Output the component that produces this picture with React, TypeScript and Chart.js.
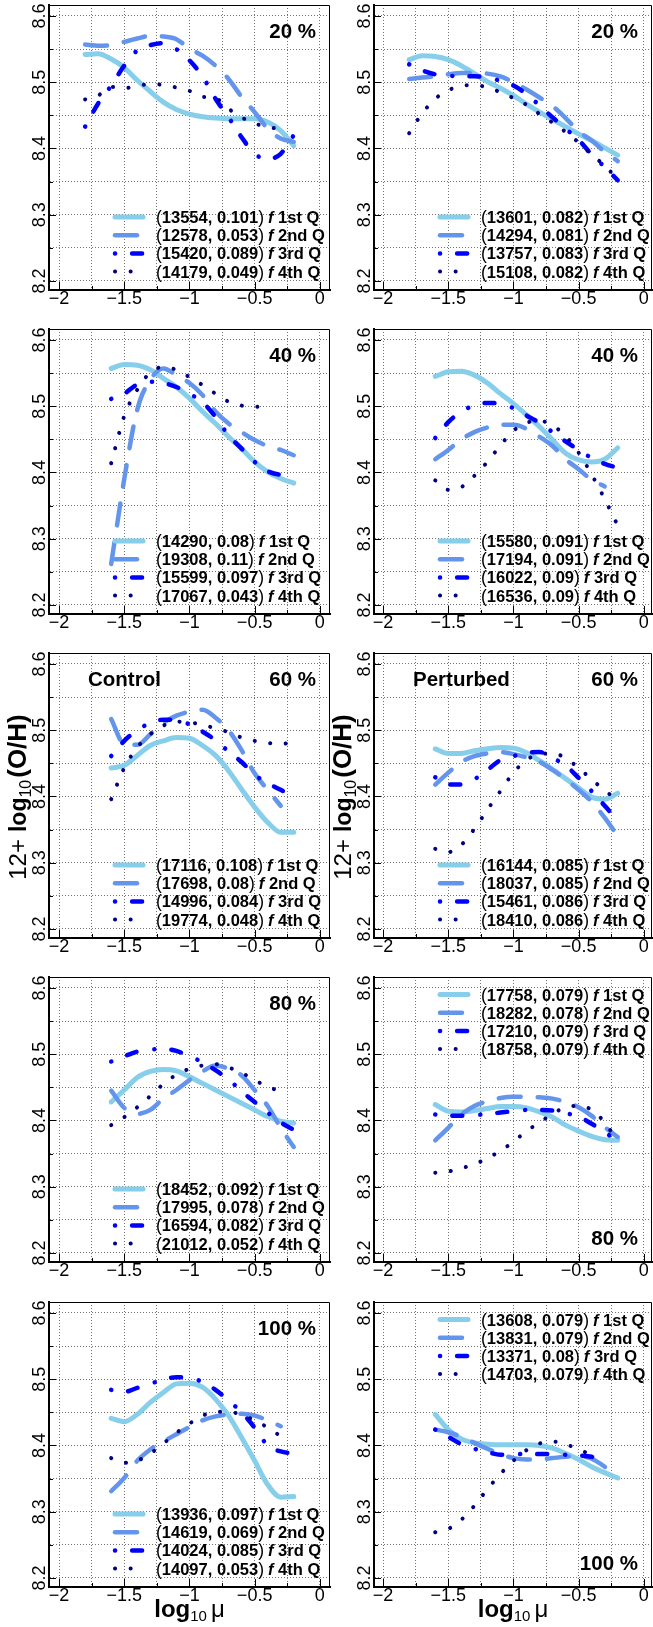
import React, { useEffect, useRef } from "react";
import { Chart, registerables } from "chart.js";

Chart.register(...registerables);

// ---------- x positions (log10 mu) ----------
const X_WIDE = [-1.8, -1.7, -1.6, -1.5, -1.4, -1.3, -1.2, -1.1, -1.0, -0.9, -0.8, -0.7, -0.6, -0.5, -0.4, -0.3, -0.2];
const X_NARROW = [-1.6, -1.5, -1.4, -1.3, -1.2, -1.1, -1.0, -0.9, -0.8, -0.7, -0.6, -0.5, -0.4, -0.3, -0.2];

// ---------- Control 20 % ----------
const c20q1 = [8.542, 8.543, 8.535, 8.522, 8.503, 8.486, 8.47, 8.459, 8.452, 8.448, 8.446, 8.445, 8.445, 8.445, 8.44, 8.427, 8.404];
const c20q2 = [8.557, 8.555, 8.556, 8.561, 8.566, 8.57, 8.569, 8.565, 8.551, 8.54, 8.525, 8.505, 8.478, 8.455, 8.43, 8.415, 8.41];
const c20q3 = [8.433, 8.468, 8.495, 8.525, 8.548, 8.556, 8.559, 8.55, 8.533, 8.509, 8.475, 8.447, 8.417, 8.392, 8.384, 8.392, 8.42];
const c20q4 = [8.474, 8.48, 8.493, 8.491, 8.495, 8.497, 8.496, 8.492, 8.487, 8.478, 8.476, 8.46, 8.447, 8.438, 8.432, 8.43, null];
const c20N = [13554, 12578, 15420, 14179];
const c20F = [0.101, 0.053, 0.089, 0.049];

// ---------- Perturbed 20 % ----------
const p20q1 = [8.534, 8.54, 8.539, 8.534, 8.525, 8.513, 8.501, 8.491, 8.48, 8.467, 8.455, 8.444, 8.433, 8.422, 8.412, 8.401, 8.39];
const p20q2 = [8.505, 8.507, 8.509, 8.512, 8.514, 8.514, 8.513, 8.509, 8.5, 8.489, 8.477, 8.464, 8.446, 8.426, 8.412, 8.395, 8.381];
const p20q3 = [8.527, 8.518, 8.512, 8.51, 8.509, 8.509, 8.507, 8.502, 8.495, 8.482, 8.465, 8.447, 8.43, 8.413, 8.391, 8.372, 8.352];
const p20q4 = [8.423, 8.453, 8.475, 8.488, 8.494, 8.496, 8.492, 8.485, 8.476, 8.466, 8.452, 8.439, 8.425, 8.409, 8.391, 8.374, 8.354];
const p20N = [13601, 14294, 13757, 15108];
const p20F = [0.082, 0.081, 0.083, 0.082];

// ---------- Control 40 % ----------
const c40q1 = [8.557, 8.563, 8.562, 8.555, 8.542, 8.529, 8.512, 8.492, 8.474, 8.454, 8.436, 8.416, 8.401, 8.391, 8.384];
const c40q2 = [8.262, 8.39, 8.495, 8.54, 8.557, 8.547, 8.535, 8.517, 8.492, 8.474, 8.461, 8.449, 8.44, 8.434, 8.426];
const c40q3 = [8.511, 8.519, 8.533, 8.537, 8.535, 8.529, 8.519, 8.506, 8.484, 8.456, 8.436, 8.416, 8.402, 8.397, 8.409];
const c40q4 = [8.414, 8.485, 8.525, 8.551, 8.559, 8.555, 8.544, 8.532, 8.519, 8.507, 8.501, 8.499, 8.503, null, null];
const c40N = [14290, 19308, 15599, 17067];
const c40F = [0.08, 0.11, 0.097, 0.043];

// ---------- Perturbed 40 % ----------
const p40q1 = [8.545, 8.552, 8.553, 8.547, 8.535, 8.519, 8.504, 8.487, 8.469, 8.449, 8.429, 8.419, 8.416, 8.42, 8.437];
const p40q2 = [8.42, 8.434, 8.45, 8.461, 8.468, 8.472, 8.472, 8.466, 8.454, 8.44, 8.42, 8.405, 8.389, 8.379, null];
const p40q3 = [8.452, 8.476, 8.492, 8.501, 8.505, 8.504, 8.497, 8.486, 8.475, 8.461, 8.447, 8.434, 8.422, 8.413, 8.407];
const p40q4 = [8.388, 8.374, 8.378, 8.395, 8.416, 8.441, 8.463, 8.475, 8.478, 8.471, 8.455, 8.43, 8.397, 8.36, 8.32];
const p40N = [15580, 17194, 16022, 16536];
const p40F = [0.091, 0.091, 0.09, 0.09];

// ---------- Control 60 % ----------
const c60q1 = [8.443, 8.447, 8.462, 8.477, 8.484, 8.489, 8.488, 8.477, 8.462, 8.439, 8.411, 8.384, 8.361, 8.346, 8.346];
const c60q2 = [8.517, 8.479, 8.478, 8.494, 8.511, 8.522, 8.528, 8.531, 8.519, 8.5, 8.47, 8.435, 8.41, 8.386, null];
const c60q3 = [8.461, 8.484, 8.5, 8.511, 8.516, 8.515, 8.509, 8.498, 8.485, 8.468, 8.452, 8.433, 8.42, 8.41, 8.4];
const c60q4 = [8.396, 8.443, 8.474, 8.494, 8.507, 8.513, 8.512, 8.508, 8.503, 8.497, 8.489, 8.484, 8.481, 8.479, 8.483];
const c60N = [17116, 17698, 14996, 19774];
const c60F = [0.108, 0.08, 0.084, 0.048];

// ---------- Perturbed 60 % ----------
const p60q1 = [8.472, 8.465, 8.465, 8.469, 8.472, 8.474, 8.473, 8.466, 8.454, 8.441, 8.427, 8.413, 8.399, 8.396, 8.405];
const p60q2 = [8.418, 8.436, 8.452, 8.461, 8.465, 8.467, 8.464, 8.459, 8.452, 8.44, 8.426, 8.41, 8.392, 8.368, 8.34];
const p60q3 = [8.429, 8.418, 8.418, 8.426, 8.44, 8.455, 8.461, 8.466, 8.467, 8.458, 8.447, 8.428, 8.408, 8.386, 8.364];
const p60q4 = [8.321, 8.316, 8.327, 8.351, 8.38, 8.408, 8.436, 8.455, 8.464, 8.465, 8.458, 8.443, 8.426, 8.409, 8.395];
const p60N = [16144, 18037, 15461, 18410];
const p60F = [0.085, 0.085, 0.086, 0.086];

// ---------- Control 80 % ----------
const c80q1 = [8.428, 8.446, 8.465, 8.474, 8.477, 8.475, 8.466, 8.456, 8.446, 8.436, 8.426, 8.416, 8.406, 8.399, 8.396];
const c80q2 = [8.445, 8.419, 8.41, 8.416, 8.433, 8.446, 8.461, 8.474, 8.483, 8.478, 8.468, 8.446, 8.422, 8.389, 8.36];
const c80q3 = [8.489, 8.497, 8.504, 8.507, 8.508, 8.505, 8.497, 8.488, 8.476, 8.462, 8.444, 8.428, 8.412, 8.397, 8.386];
const c80q4 = [8.393, 8.405, 8.42, 8.437, 8.455, 8.469, 8.478, 8.483, 8.485, 8.48, 8.472, 8.461, 8.451, 8.444, null];
const c80N = [18452, 17995, 16594, 21012];
const c80F = [0.092, 0.078, 0.082, 0.052];

// ---------- Perturbed 80 % ----------
const p80q1 = [8.424, 8.414, 8.413, 8.415, 8.418, 8.421, 8.421, 8.419, 8.413, 8.405, 8.393, 8.384, 8.376, 8.371, 8.37];
const p80q2 = [8.37, 8.389, 8.409, 8.422, 8.429, 8.434, 8.436, 8.436, 8.435, 8.433, 8.428, 8.42, 8.407, 8.39, 8.375];
const p80q3 = [8.409, 8.407, 8.407, 8.408, 8.41, 8.412, 8.414, 8.416, 8.416, 8.415, 8.411, 8.406, 8.395, 8.383, 8.367];
const p80q4 = [8.321, 8.323, 8.328, 8.334, 8.343, 8.354, 8.368, 8.384, 8.397, 8.41, 8.42, 8.422, 8.416, 8.397, 8.368];
const p80N = [17758, 18282, 17210, 18758];
const p80F = [0.079, 0.078, 0.079, 0.079];

// ---------- Control 100 % ----------
const c100q1 = [8.441, 8.436, 8.447, 8.465, 8.48, 8.493, 8.494, 8.488, 8.47, 8.445, 8.412, 8.377, 8.341, 8.322, 8.323];
const c100q2 = [8.331, 8.351, 8.377, 8.394, 8.406, 8.417, 8.428, 8.438, 8.444, 8.447, 8.448, 8.445, 8.438, 8.429, null];
const c100q3 = [8.484, 8.481, 8.487, 8.493, 8.5, 8.503, 8.502, 8.496, 8.484, 8.468, 8.45, 8.427, 8.4, 8.391, 8.388];
const c100q4 = [8.381, 8.374, 8.377, 8.388, 8.403, 8.419, 8.433, 8.445, 8.451, 8.451, 8.446, 8.438, 8.427, 8.414, null];
const c100N = [13936, 14619, 14024, 14097];
const c100F = [0.097, 0.069, 0.085, 0.053];

// ---------- Perturbed 100 % ----------
const p100q1 = [8.447, 8.424, 8.41, 8.404, 8.402, 8.401, 8.401, 8.401, 8.4, 8.396, 8.388, 8.379, 8.368, 8.359, 8.351];
const p100q2 = [8.424, 8.42, 8.413, 8.404, 8.395, 8.387, 8.381, 8.379, 8.379, 8.381, 8.383, 8.384, 8.38, 8.368, 8.351];
const p100q3 = [8.424, 8.413, 8.402, 8.395, 8.39, 8.386, 8.386, 8.388, 8.387, 8.387, 8.386, 8.385, 8.383, 8.377, null];
const p100q4 = [8.269, 8.274, 8.288, 8.309, 8.334, 8.357, 8.377, 8.393, 8.403, 8.406, 8.402, 8.394, 8.386, null, null];
const p100N = [13608, 13831, 13371, 14703];
const p100F = [0.079, 0.079, 0.08, 0.079];

// ---------- labels & axes ----------
const ORDINALS = ["1st", "2nd", "3rd", "4th"];
const PERCENTS = ["20 %", "40 %", "60 %", "80 %", "100 %"];
const GROUPS = ["Control", "Perturbed"];
const Y_MIN = 8.1864;
const Y_MAX = 8.6166;
const Y_STEP = 0.05;
const X_STEP = 0.25;
const X_LIMITS_LEFT = [-2.077, 0.078];
const X_LIMITS_RIGHT = [-2.07, 0.063];

const FONT = '"Liberation Sans", Arial, Helvetica, sans-serif';

const STYLES = [
  { color: "#87CEEB", width: 5, dash: [] as number[] },
  { color: "#6495ED", width: 4.5, dash: [22, 17] },
  { color: "#0000FF", width: 4.5, dash: [0.1, 17, 10, 18] },
  { color: "#000080", width: 4, dash: [0.1, 15.5] },
];

const PANELS = [
  { row: 0, col: 0, xs: X_WIDE, q: [c20q1, c20q2, c20q3, c20q4], n: c20N, f: c20F, legendTop: false, pctBottom: false },
  { row: 0, col: 1, xs: X_WIDE, q: [p20q1, p20q2, p20q3, p20q4], n: p20N, f: p20F, legendTop: false, pctBottom: false },
  { row: 1, col: 0, xs: X_NARROW, q: [c40q1, c40q2, c40q3, c40q4], n: c40N, f: c40F, legendTop: false, pctBottom: false },
  { row: 1, col: 1, xs: X_NARROW, q: [p40q1, p40q2, p40q3, p40q4], n: p40N, f: p40F, legendTop: false, pctBottom: false },
  { row: 2, col: 0, xs: X_NARROW, q: [c60q1, c60q2, c60q3, c60q4], n: c60N, f: c60F, legendTop: false, pctBottom: false },
  { row: 2, col: 1, xs: X_NARROW, q: [p60q1, p60q2, p60q3, p60q4], n: p60N, f: p60F, legendTop: false, pctBottom: false },
  { row: 3, col: 0, xs: X_NARROW, q: [c80q1, c80q2, c80q3, c80q4], n: c80N, f: c80F, legendTop: false, pctBottom: false },
  { row: 3, col: 1, xs: X_NARROW, q: [p80q1, p80q2, p80q3, p80q4], n: p80N, f: p80F, legendTop: true, pctBottom: true },
  { row: 4, col: 0, xs: X_NARROW, q: [c100q1, c100q2, c100q3, c100q4], n: c100N, f: c100F, legendTop: false, pctBottom: false },
  { row: 4, col: 1, xs: X_NARROW, q: [p100q1, p100q2, p100q3, p100q4], n: p100N, f: p100F, legendTop: true, pctBottom: true },
];

// ---------- geometry ----------
const ROW_TOPS = [0, 324, 648, 972, 1297];
const PAD_TOP = 5;
const AREA_H = 285;
const COLS = [
  { left: 0, width: 336, yAxisW: 49, padRight: 6 },
  { left: 326, width: 327, yAxisW: 48, padRight: 1 },
];

const isMultiple = (v: number, step: number) => Math.abs(v / step - Math.round(v / step)) < 1e-6;

type Seg = { t: string; font: string; dy?: number; gap?: number };
function segsWidth(ctx: any, segs: Seg[]) {
  let w = 0;
  for (const s of segs) {
    ctx.font = s.font;
    w += ctx.measureText(s.t).width + (s.gap || 0);
  }
  return w;
}
function drawSegs(ctx: any, segs: Seg[], x: number, y: number) {
  let cx = x;
  for (const s of segs) {
    ctx.font = s.font;
    ctx.fillText(s.t, cx, y + (s.dy || 0));
    cx += ctx.measureText(s.t).width + (s.gap || 0);
  }
}

function makeDecor(cfg: any) {
  return {
    id: "decor" + cfg.row + "_" + cfg.col,
    afterDraw(chart: any) {
      const { ctx, chartArea: a } = chart;
      const xs = chart.scales.x;
      const ys = chart.scales.y;
      ctx.save();
      ctx.setLineDash([]);
      // top & right frame
      ctx.strokeStyle = "#000";
      ctx.lineWidth = 1;
      ctx.beginPath();
      ctx.moveTo(a.left, a.top + 0.5);
      ctx.lineTo(a.right - 0.5, a.top + 0.5);
      ctx.lineTo(a.right - 0.5, a.bottom);
      ctx.stroke();
      // inner tick marks
      ctx.beginPath();
      xs.ticks.forEach((t: any) => {
        const px = Math.round(xs.getPixelForValue(t.value)) + 0.5;
        const len = isMultiple(t.value, 0.5) ? 8 : 4;
        ctx.moveTo(px, a.bottom);
        ctx.lineTo(px, a.bottom - len);
      });
      ys.ticks.forEach((t: any) => {
        const py = Math.round(ys.getPixelForValue(t.value)) + 0.5;
        const len = isMultiple(t.value, 0.1) ? 7 : 4;
        ctx.moveTo(a.left, py);
        ctx.lineTo(a.left + len, py);
      });
      ctx.stroke();

      // panel labels
      ctx.fillStyle = "#000";
      ctx.textBaseline = "middle";
      ctx.font = `bold 20.5px ${FONT}`;
      ctx.textAlign = "right";
      ctx.fillText(PERCENTS[cfg.row], a.right - 14, a.top + (cfg.pctBottom ? 262 : 27));
      if (cfg.row === 2) {
        ctx.textAlign = "left";
        ctx.fillText(GROUPS[cfg.col], a.left + 39, a.top + 27);
      }

      // legend
      const base = cfg.legendTop ? 17.5 : 212;
      chart.data.datasets.forEach((ds: any, i: number) => {
        const yy = a.top + base + i * 18.2;
        ctx.save();
        ctx.strokeStyle = ds.borderColor;
        ctx.lineWidth = ds.borderWidth;
        ctx.lineCap = ds.borderCapStyle;
        ctx.setLineDash(ds.borderDash || []);
        ctx.beginPath();
        ctx.moveTo(a.left + 66, yy);
        ctx.lineTo(a.left + 94, yy);
        ctx.stroke();
        ctx.restore();
        ctx.textAlign = "left";
        ctx.textBaseline = "alphabetic";
        const segs: Seg[] = [
          { t: "(", font: `17.5px ${FONT}` },
          { t: `${cfg.n[i]}, ${cfg.f[i]}`, font: `bold 16.5px ${FONT}` },
          { t: ")", font: `17.5px ${FONT}`, gap: 4 },
          { t: "f", font: `italic bold 16.5px ${FONT}` },
          { t: ` ${ORDINALS[i]} Q`, font: `bold 16.5px ${FONT}` },
        ];
        drawSegs(ctx, segs, a.left + 107, yy + 6);
      });

      // y-axis title (middle row)
      if (cfg.row === 2) {
        const segs: Seg[] = [
          { t: "12+", font: `24px ${FONT}`, gap: 7 },
          { t: "log", font: `bold 23px ${FONT}` },
          { t: "10", font: `16px ${FONT}`, dy: 5, gap: 2 },
          { t: "(O/H)", font: `bold 26px ${FONT}` },
        ];
        const w = segsWidth(ctx, segs);
        ctx.save();
        ctx.translate(a.left - 32.5, (a.top + a.bottom) / 2 + 1.5);
        ctx.rotate(-Math.PI / 2);
        ctx.textAlign = "left";
        ctx.textBaseline = "alphabetic";
        drawSegs(ctx, segs, -w / 2, 9);
        ctx.restore();
      }

      // x-axis title (bottom row)
      if (cfg.row === 4) {
        const segs: Seg[] = [
          { t: "log", font: `bold 24px ${FONT}` },
          { t: "10", font: `15px ${FONT}`, dy: 4, gap: 4 },
          { t: "\u03bc", font: `24px ${FONT}` },
        ];
        const w = segsWidth(ctx, segs);
        ctx.textAlign = "left";
        ctx.textBaseline = "alphabetic";
        drawSegs(ctx, segs, (a.left + a.right) / 2 - w / 2, a.bottom + 30);
      }
      ctx.restore();
    },
  };
}

function Panel({ cfg }: { cfg: any }) {
  const ref = useRef<HTMLCanvasElement>(null);
  const col = COLS[cfg.col];
  const top = ROW_TOPS[cfg.row];
  const height = cfg.row === 4 ? 1627 - top : 324;
  const xLim = cfg.col === 0 ? X_LIMITS_LEFT : X_LIMITS_RIGHT;

  useEffect(() => {
    if (!ref.current) return;
    const datasets = cfg.q.map((ys: (number | null)[], i: number) => ({
      label: `${ORDINALS[i]} Q`,
      data: cfg.xs
        .map((x: number, k: number) => ({ x, y: ys[k] }))
        .filter((p: any) => p.y !== null && p.y !== undefined),
      borderColor: STYLES[i].color,
      backgroundColor: STYLES[i].color,
      borderWidth: STYLES[i].width,
      borderDash: STYLES[i].dash,
      borderCapStyle: "round",
      borderJoinStyle: "round",
      cubicInterpolationMode: "monotone",
      pointRadius: 0,
      fill: false,
      order: 3 - i,
    }));
    const tickFont = { family: FONT, size: 18 };
    const chart = new Chart(ref.current, {
      type: "line",
      data: { datasets },
      plugins: [makeDecor(cfg)],
      options: {
        responsive: false,
        animation: false,
        events: [],
        layout: { padding: { top: PAD_TOP, right: col.padRight, bottom: 0, left: 0 } },
        plugins: { legend: { display: false }, tooltip: { enabled: false }, title: { display: false } },
        scales: {
          x: {
            type: "linear",
            min: xLim[0],
            max: xLim[1],
            afterFit: (s: any) => {
              s.height = height - PAD_TOP - AREA_H;
              s.paddingLeft = 0;
              s.paddingRight = 0;
            },
            ticks: {
              stepSize: X_STEP,
              includeBounds: false,
              autoSkip: false,
              maxRotation: 0,
              minRotation: 0,
              padding: -2,
              color: "#000",
              font: tickFont,
              callback: (v: any) => {
                const n = Number(v);
                if (!isMultiple(n, 0.5)) return "";
                if (Math.abs(n) < 1e-9) return "0";
                return (n < 0 ? "\u2212" : "") + String(Math.abs(Math.round(n * 10) / 10));
              },
            },
            grid: { color: "rgba(0,0,0,0.55)", lineWidth: 1, drawTicks: false },
            border: { display: true, color: "#000", width: 2, dash: [1, 2] },
          },
          y: {
            type: "linear",
            min: Y_MIN,
            max: Y_MAX,
            afterFit: (s: any) => {
              s.width = col.yAxisW;
              s.paddingTop = 0;
              s.paddingBottom = 0;
            },
            ticks: {
              stepSize: Y_STEP,
              includeBounds: false,
              autoSkip: false,
              minRotation: 90,
              maxRotation: 90,
              crossAlign: "center",
              padding: -4,
              color: "#000",
              font: tickFont,
              callback: (v: any) => {
                const n = Number(v);
                return isMultiple(n, 0.1) ? n.toFixed(1) : "";
              },
            },
            grid: { color: "rgba(0,0,0,0.55)", lineWidth: 1, drawTicks: false },
            border: { display: true, color: "#000", width: 2, dash: [1, 2] },
          },
        },
      },
    } as any);
    return () => chart.destroy();
  }, []);

  return (
    <canvas
      ref={ref}
      width={col.width}
      height={height}
      style={{ position: "absolute", left: col.left, top, width: col.width, height }}
    />
  );
}

export default function App() {
  return (
    <div style={{ position: "absolute", left: 0, top: 0, width: 653, height: 1627, background: "#fff", overflow: "hidden" }}>
      {PANELS.map((p) => (
        <Panel key={p.row + "_" + p.col} cfg={p} />
      ))}
    </div>
  );
}
